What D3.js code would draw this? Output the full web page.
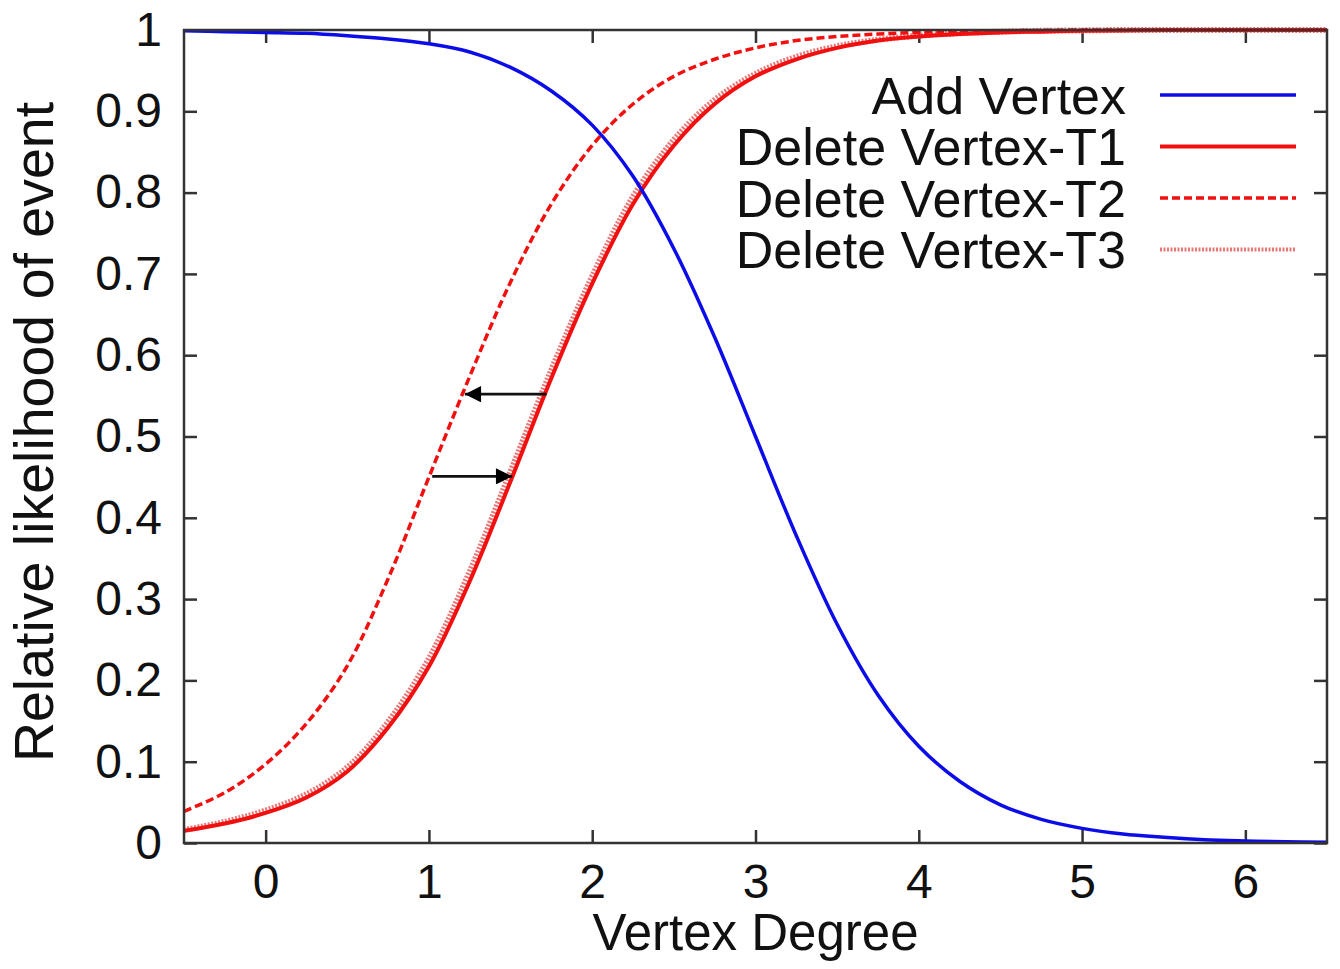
<!DOCTYPE html>
<meta charset="utf-8">
<style>
body { margin: 0; background: #fff; }
text { font-family: "Liberation Sans", Arial, sans-serif; fill: #111; }
</style>
<svg id="chart" width="1340" height="969"></svg>
<script src="https://cdn.jsdelivr.net/npm/d3@7/dist/d3.min.js"></script>
<script>

// vertex degree samples
var degree = [-0.5, -0.25, 0, 0.25, 0.5, 0.75, 1, 1.25, 1.5, 1.75, 2, 2.25, 2.5, 2.75, 3,
  3.25, 3.5, 3.75, 4, 4.25, 4.5, 4.75, 5, 5.25, 5.5, 5.75, 6, 6.25, 6.5];

// values
var addVertex = [0.999, 0.998, 0.997, 0.996, 0.993, 0.989, 0.983, 0.973, 0.954, 0.925, 0.883, 0.82, 0.731, 0.622, 0.5,
  0.378, 0.269, 0.182, 0.119, 0.076, 0.047, 0.029, 0.018, 0.011, 0.007, 0.004, 0.0025, 0.0015, 0.001];
var deleteT1 = [0.015, 0.024, 0.037, 0.056, 0.088, 0.142, 0.217, 0.322, 0.445, 0.572, 0.688, 0.786, 0.858, 0.909, 0.943,
  0.964, 0.978, 0.987, 0.992, 0.995, 0.997, 0.998, 0.999, 0.9995, 1, 1, 1, 1, 1];
var deleteT2 = [0.039, 0.062, 0.097, 0.147, 0.218, 0.325, 0.45, 0.574, 0.69, 0.786, 0.858, 0.909, 0.943, 0.964, 0.978,
  0.987, 0.992, 0.995, 0.997, 0.998, 0.999, 0.9995, 1, 1, 1, 1, 1, 1, 1];
var deleteT3 = [0.016, 0.026, 0.04, 0.06, 0.093, 0.149, 0.227, 0.334, 0.457, 0.582, 0.697, 0.795, 0.865, 0.914, 0.946,
  0.967, 0.98, 0.988, 0.993, 0.996, 0.998, 0.999, 0.9995, 1, 1, 1, 1, 1, 1];

var xTicks = [0, 1, 2, 3, 4, 5, 6];
var yTicks = [0, 0.1, 0.2, 0.3, 0.4, 0.5, 0.6, 0.7, 0.8, 0.9, 1];
var seriesNames = ["Add Vertex", "Delete Vertex-T1", "Delete Vertex-T2", "Delete Vertex-T3"];

// shift arrows: [x from, x to, y]
var arrows = [[1.72, 1.22, 0.552], [1.02, 1.51, 0.451]];

var svg = d3.select("#chart");
var pLeft = 184, pRight = 1327, pTop = 30, pBottom = 843;

var x = d3.scaleLinear().domain([-0.5, 6.5]).range([pLeft, pRight]);
var y = d3.scaleLinear().domain([0, 1]).range([pBottom, pTop]);

var styles = [
  {color: "#0c0ce8", width: 3.5, dash: null},
  {color: "#f01010", width: 4, dash: null},
  {color: "#f01010", width: 3.5, dash: "8,4"},
  {color: "#e87878", width: 6, dash: "2,1.5"}
];
var series = [addVertex, deleteT1, deleteT2, deleteT3];

// ticks (mirrored, inward)
var tickLen = 13;
var axisColor = "#333";
function styleTicks(g) {
  g.select(".domain").remove();
  g.selectAll("line").attr("stroke", axisColor).attr("stroke-width", 2.5);
  g.selectAll("text").attr("font-size", 48).attr("fill", "#111")
    .attr("font-family", "Liberation Sans, Arial, sans-serif");
}
svg.append("g").attr("transform", "translate(" + pLeft + ",0)")
  .call(d3.axisLeft(y).tickValues(yTicks).tickSize(-tickLen).tickPadding(22)
    .tickFormat(function(d){ return d === 0 || d === 1 ? String(d) : d3.format(".1f")(d); }))
  .call(styleTicks);
svg.append("g").attr("transform", "translate(" + pRight + ",0)")
  .call(d3.axisRight(y).tickValues(yTicks).tickSize(-tickLen).tickFormat(""))
  .call(styleTicks);
svg.append("g").attr("transform", "translate(0," + pBottom + ")")
  .call(d3.axisBottom(x).tickValues(xTicks).tickSize(-tickLen).tickPadding(21).tickFormat(d3.format("d")))
  .call(styleTicks);
svg.append("g").attr("transform", "translate(0," + pTop + ")")
  .call(d3.axisTop(x).tickValues(xTicks).tickSize(-tickLen).tickFormat(""))
  .call(styleTicks);

// curves
svg.append("clipPath").attr("id", "plot")
  .append("rect").attr("x", pLeft).attr("y", pTop - 3).attr("width", pRight - pLeft).attr("height", pBottom - pTop + 3);

var line = d3.line()
  .x(function(d){ return x(d[0]); })
  .y(function(d){ return y(d[1]); })
  .curve(d3.curveCatmullRom.alpha(0.5));

var drawOrder = [3, 1, 2, 0];
drawOrder.forEach(function(i){
  var pts = degree.map(function(d, j){ return [d, series[i][j]]; });
  svg.append("path")
    .attr("clip-path", "url(#plot)")
    .attr("d", line(pts))
    .attr("fill", "none")
    .attr("stroke", styles[i].color)
    .attr("stroke-width", styles[i].width)
    .attr("stroke-dasharray", styles[i].dash);
});

// frame
svg.append("rect")
  .attr("x", pLeft).attr("y", pTop)
  .attr("width", pRight - pLeft).attr("height", pBottom - pTop)
  .attr("fill", "none").attr("stroke", axisColor).attr("stroke-width", 2.5);

// arrows
svg.append("defs").append("marker")
  .attr("id", "head").attr("viewBox", "0 0 10 10")
  .attr("refX", 10).attr("refY", 5)
  .attr("markerWidth", 10).attr("markerHeight", 5.8)
  .attr("markerUnits", "strokeWidth")
  .attr("orient", "auto")
  .append("path").attr("d", "M0,0L10,5L0,10z").attr("fill", "#000");

arrows.forEach(function(a){
  svg.append("line")
    .attr("x1", x(a[0])).attr("x2", x(a[1]))
    .attr("y1", y(a[2])).attr("y2", y(a[2]))
    .attr("stroke", "#111").attr("stroke-width", 2.8)
    .attr("marker-end", "url(#head)");
});

// legend
var legend = svg.append("g");
seriesNames.forEach(function(name, i){
  var ly = 95 + i * 51.5;
  legend.append("text")
    .attr("x", 1126).attr("y", ly)
    .attr("dy", "0.36em")
    .attr("text-anchor", "end")
    .attr("font-size", 52)
    .text(name);
  legend.append("line")
    .attr("x1", 1160).attr("x2", 1296)
    .attr("y1", ly).attr("y2", ly)
    .attr("stroke", styles[i].color)
    .attr("stroke-width", i === 3 ? 4 : styles[i].width)
    .attr("stroke-dasharray", styles[i].dash);
});

// axis titles
svg.append("text")
  .attr("x", x(3)).attr("y", 950)
  .attr("text-anchor", "middle")
  .attr("font-size", 51)
  .text("Vertex Degree");

svg.append("text")
  .attr("transform", "translate(53,432) rotate(-90)")
  .attr("text-anchor", "middle")
  .attr("font-size", 55.5)
  .text("Relative likelihood of event");

</script>
</html>
